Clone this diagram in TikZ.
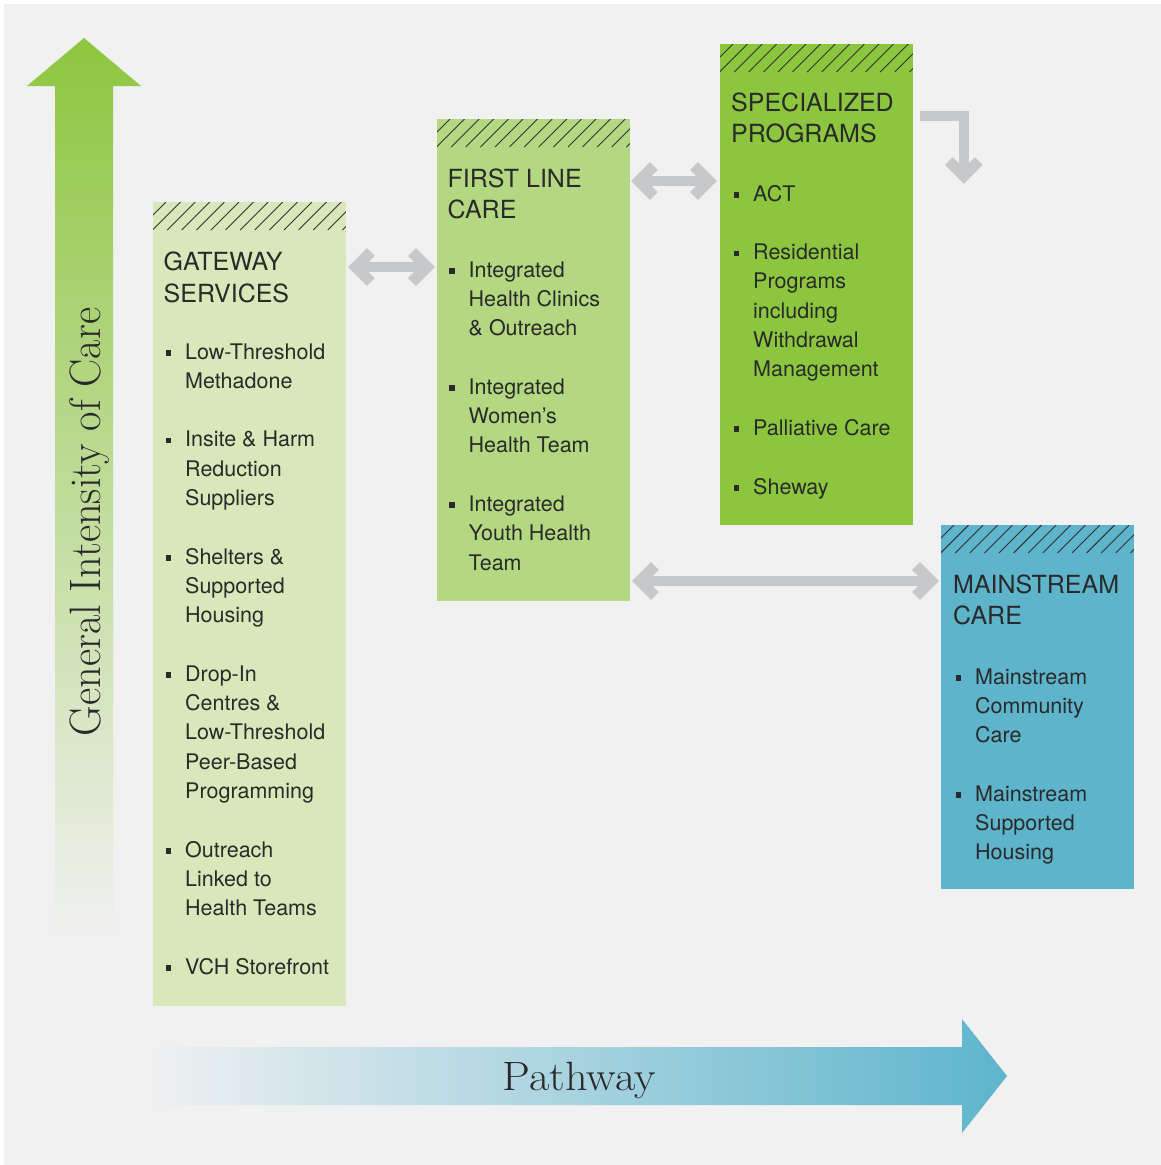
\documentclass[tikz,border=0pt]{standalone}
\usepackage{fontspec}
\usepackage{graphicx}
\newfontfamily\hvf{TeX Gyre Heros}
\usetikzlibrary{calc}
\definecolor{bgc}{HTML}{F1F1F1}
\definecolor{gwcol}{HTML}{D8E8BA}
\definecolor{flcol}{HTML}{B4D881}
\definecolor{spcol}{HTML}{8CC63F}
\definecolor{mscol}{HTML}{5DB4CB}
\definecolor{garr}{HTML}{C7C8CA}
\definecolor{txtc}{HTML}{2A2A2A}
\definecolor{hatchc}{HTML}{333333}
\definecolor{upmid}{HTML}{CFE3B0}
\definecolor{uptop}{HTML}{8DC63F}
\definecolor{pwleft}{HTML}{EEF0F1}
\definecolor{pwmid}{HTML}{BCD9E2}
\definecolor{pwright}{HTML}{5DB5CC}
\newcommand\bsq{\leavevmode\llap{\rule[3.5pt]{5.5pt}{5.5pt}\hspace{14pt}}}
\tikzset{
  box/.style={draw=none, inner sep=0, minimum width=192.5, anchor=north west},
  head/.style={anchor=base west, inner sep=0, text=txtc, font=\hvf\fontsize{25}{31.5}\selectfont},
  items/.style={anchor=base west, inner sep=0, text=txtc, font=\hvf\fontsize{21.5}{29.3}\selectfont},
  hatchline/.style={draw=hatchc, line width=0.9pt},
  gshaft/.style={draw=garr, line width=10pt, line cap=butt, line join=miter},
  gchev/.style={draw=garr, line width=11pt, line cap=butt, line join=miter},
}
\begin{document}
\begin{tikzpicture}[x=1pt,y=-1pt]
\useasboundingbox (0,0) rectangle (1161,1165);
\fill[white] (0,0) rectangle (1161,1165);
\fill[bgc] (4,4) rectangle (1161,1165);

% vertical intensity arrow
\shade[top color=uptop, middle color=upmid, bottom color=bgc]
  (84,38) -- (141,86) -- (113,86) -- (113,940) -- (55,940) -- (55,86) -- (27,86) -- cycle;
\node[rotate=90, anchor=base, inner sep=0, text=txtc, font=\fontsize{44}{44}\selectfont] (gic) at (100,522)
  {\scalebox{0.96}[1]{General Intensity of Care}};

% pathway arrow
\shade[left color=pwleft, middle color=pwmid, right color=pwright]
  (157,1047) -- (962,1047) -- (962,1019) -- (1007,1076) -- (962,1133) -- (962,1105) -- (157,1105) -- cycle;
\node[anchor=base, inner sep=0, text=txtc, font=\fontsize{41}{41}\selectfont] (pw) at (579,1090)
  {\scalebox{1.08}[1]{Pathway}};

% boxes
\node[box, fill=gwcol, minimum height=804] (gw) at (153,202) {};
\node[box, fill=flcol, minimum height=482] (fl) at (437,119) {};
\node[box, fill=spcol, minimum height=481] (sp) at (720,44) {};
\node[box, fill=mscol, minimum height=364] (ms) at (941,525) {};

% hatching
\foreach \b in {gw,fl,sp,ms}{
  \begin{scope}
    \clip (\b.north west) rectangle ($(\b.north east)+(0,28)$);
    \foreach \k in {0,...,14}{
      \draw[hatchline] ($(\b.north west)+({\k*14.6-15},28)$) -- ++(28,-28);
    }
  \end{scope}
}

% headings
\node[head] (gwh) at ($(gw.north west)+(10.5,68.5)$) {\parbox[t]{185pt}{GATEWAY\\SERVICES}};
\node[head] (flh) at ($(fl.north west)+(10.5,68)$) {\parbox[t]{185pt}{FIRST LINE\\CARE}};
\node[head] (sph) at ($(sp.north west)+(11,67)$) {\parbox[t]{185pt}{SPECIALIZED\\PROGRAMS}};
\node[head] (msh) at ($(ms.north west)+(12,68)$) {\parbox[t]{185pt}{MAINSTREAM\\CARE}};

% items
\node[items] (gwi) at ($(gw.north west)+(32,157)$) {\parbox[t]{200pt}{\raggedright
  \bsq Low-Threshold\\Methadone\\[29.3pt]
  \bsq Insite \& Harm\\Reduction\\Suppliers\\[29.3pt]
  \bsq Shelters \&\\Supported\\Housing\\[29.3pt]
  \bsq Drop-In\\Centres \&\\Low-Threshold\\Peer-Based\\Programming\\[29.3pt]
  \bsq Outreach\\Linked to\\Health Teams\\[29.3pt]
  \bsq VCH Storefront}};
\node[items] (fli) at ($(fl.north west)+(31.5,158)$) {\parbox[t]{200pt}{\raggedright
  \bsq Integrated\\Health Clinics\\\& Outreach\\[29.3pt]
  \bsq Integrated\\Women’s\\Health Team\\[29.3pt]
  \bsq Integrated\\Youth Health\\Team}};
\node[items] (spi) at ($(sp.north west)+(33,157)$) {\parbox[t]{200pt}{\raggedright
  \bsq ACT\\[29.3pt]
  \bsq Residential\\Programs\\including\\Withdrawal\\Management\\[29.3pt]
  \bsq Palliative Care\\[29.3pt]
  \bsq Sheway}};
\node[items] (msi) at ($(ms.north west)+(34,159)$) {\parbox[t]{200pt}{\raggedright
  \bsq Mainstream\\Community\\Care\\[29.3pt]
  \bsq Mainstream\\Supported\\Housing}};

% gray connectors
\coordinate (a1) at ($(gw.north east)+(2,65)$);
\coordinate (a2) at ($(fl.north west |- a1)+(-2,0)$);
\coordinate (b1) at ($(fl.north east)+(1,62)$);
\coordinate (b2) at ($(sp.north west |- b1)+(-3,0)$);
\coordinate (c1) at ($(fl.north east)+(2,462)$);
\coordinate (c2) at ($(ms.north west |- c1)+(-2,0)$);
\coordinate (d1) at ($(sp.north east)+(7,72)$);
\coordinate (d2) at ($(sp.north east)+(51,72)$);
\coordinate (d3) at ($(sp.north east)+(51,140)$);

\foreach \p/\q in {a1/a2, b1/b2, c1/c2}{
  \draw[gshaft] ($(\p)+(6,0)$) -- ($(\q)+(-6,0)$);
  \draw[gchev] ($(\p)+(23,-15)$) -- ($(\p)+(8,0)$) -- ($(\p)+(23,15)$);
  \draw[gchev] ($(\q)+(-23,-15)$) -- ($(\q)+(-8,0)$) -- ($(\q)+(-23,15)$);
}
\draw[gshaft] (d1) -- (d2) -- ($(d3)+(0,-6)$);
\draw[gchev] ($(d3)+(-15,-23)$) -- ($(d3)+(0,-8)$) -- ($(d3)+(15,-23)$);
\end{tikzpicture}
\end{document}
